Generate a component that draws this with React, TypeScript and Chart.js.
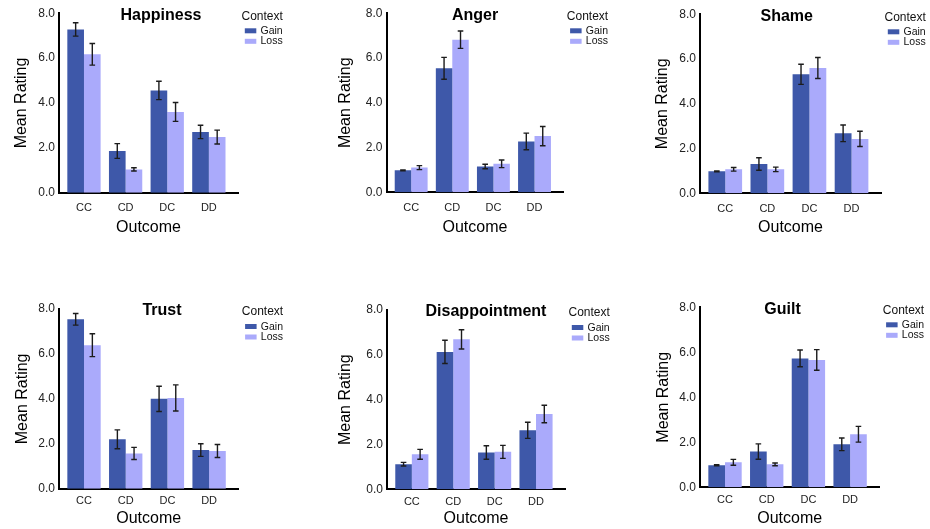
import React, { useEffect, useRef } from "react";
import { Chart, registerables } from "chart.js";

Chart.register(...registerables);

const FONT = "'Liberation Sans', Arial, Helvetica, sans-serif";

// ---- data ----
const outcomes = ["CC", "CD", "DC", "DD"];
const contextLabels = ["Gain", "Loss"];
const legendTitle = "Context";
const yTickValues = [0, 2, 4, 6, 8];
const yAxisTitle = "Mean Rating";
const xAxisTitle = "Outcome";

const happinessGain = [7.28, 1.86, 4.56, 2.71];
const happinessGainErr = [0.3, 0.33, 0.41, 0.3];
const happinessLoss = [6.17, 1.04, 3.6, 2.48];
const happinessLossErr = [0.48, 0.07, 0.42, 0.31];

const angerGain = [0.98, 5.54, 1.15, 2.27];
const angerGainErr = [0.02, 0.49, 0.1, 0.37];
const angerLoss = [1.1, 6.82, 1.27, 2.51];
const angerLossErr = [0.09, 0.39, 0.17, 0.43];

const shameGain = [0.98, 1.31, 5.32, 2.68];
const shameGainErr = [0.02, 0.28, 0.45, 0.37];
const shameLoss = [1.07, 1.07, 5.6, 2.43];
const shameLossErr = [0.08, 0.1, 0.47, 0.34];

const trustGain = [7.54, 2.2, 4.0, 1.72];
const trustGainErr = [0.26, 0.42, 0.56, 0.28];
const trustLoss = [6.39, 1.57, 4.04, 1.68];
const trustLossErr = [0.51, 0.27, 0.58, 0.29];

const disappointmentGain = [1.12, 6.13, 1.64, 2.63];
const disappointmentGainErr = [0.08, 0.52, 0.3, 0.36];
const disappointmentLoss = [1.56, 6.69, 1.67, 3.36];
const disappointmentLossErr = [0.22, 0.43, 0.29, 0.39];

const guiltGain = [0.98, 1.59, 5.73, 1.91];
const guiltGainErr = [0.02, 0.34, 0.37, 0.28];
const guiltLoss = [1.11, 1.02, 5.66, 2.36];
const guiltLossErr = [0.13, 0.06, 0.46, 0.35];

// ---- styles / layout ----
const GAIN_COLOR = "#3E58A9";
const LOSS_COLOR = "#AAAAFB";
const X_MIN = -0.6;
const X_MAX = 3.7;

type Rect = { left: number; top: number; width: number; height: number };
type Plot = { left: number; top: number; right: number; bottom: number };
type PanelSpec = {
  title: string;
  gain: number[];
  gainErr: number[];
  loss: number[];
  lossErr: number[];
  box: Rect;
  plot: Plot;
  titleX: number;
  yTitlePad: number;
  xTickPad: number;
  xTitlePad: number;
};

const ROW0 = { top: 0, height: 264 };
const ROW1 = { top: 264, height: 265 };

const panels: PanelSpec[] = [
  {
    title: "Happiness", gain: happinessGain, gainErr: happinessGainErr, loss: happinessLoss, lossErr: happinessLossErr,
    box: { left: 0, top: ROW0.top, width: 310, height: ROW0.height },
    plot: { left: 59, top: 13.3, right: 238, bottom: 192.7 },
    titleX: 161, yTitlePad: 12.4, xTickPad: 9, xTitlePad: 26.7,
  },
  {
    title: "Anger", gain: angerGain, gainErr: angerGainErr, loss: angerLoss, lossErr: angerLossErr,
    box: { left: 310, top: ROW0.top, width: 310, height: ROW0.height },
    plot: { left: 386.5, top: 13.3, right: 563.3, bottom: 192.2 },
    titleX: 475, yTitlePad: 26, xTickPad: 9, xTitlePad: 26.7,
  },
  {
    title: "Shame", gain: shameGain, gainErr: shameGainErr, loss: shameLoss, lossErr: shameLossErr,
    box: { left: 620, top: ROW0.top, width: 310, height: ROW0.height },
    plot: { left: 700, top: 14.3, right: 881, bottom: 193.3 },
    titleX: 786.7, yTitlePad: 33.4, xTickPad: 9, xTitlePad: 26.7,
  },
  {
    title: "Trust", gain: trustGain, gainErr: trustGainErr, loss: trustLoss, lossErr: trustLossErr,
    box: { left: 0, top: ROW1.top, width: 310, height: ROW1.height },
    plot: { left: 59, top: 309, right: 238.3, bottom: 488.7 },
    titleX: 162, yTitlePad: 13.4, xTickPad: 6, xTitlePad: 1.1,
  },
  {
    title: "Disappointment", gain: disappointmentGain, gainErr: disappointmentGainErr, loss: disappointmentLoss, lossErr: disappointmentLossErr,
    box: { left: 310, top: ROW1.top, width: 310, height: ROW1.height },
    plot: { left: 387, top: 310, right: 565, bottom: 489.3 },
    titleX: 486, yTitlePad: 26, xTickPad: 6, xTitlePad: 1.1,
  },
  {
    title: "Guilt", gain: guiltGain, gainErr: guiltGainErr, loss: guiltLoss, lossErr: guiltLossErr,
    box: { left: 620, top: ROW1.top, width: 310, height: ROW1.height },
    plot: { left: 700, top: 307.3, right: 879.3, bottom: 487.3 },
    titleX: 782.5, yTitlePad: 34, xTickPad: 6, xTitlePad: 1.1,
  },
];

const decorPlugin = {
  id: "decor",
  afterDatasetsDraw(chart: any) {
    const ctx = chart.ctx;
    const yScale = chart.scales.y;
    chart.data.datasets.forEach((ds: any, i: number) => {
      const meta = chart.getDatasetMeta(i);
      meta.data.forEach((bar: any, j: number) => {
        const v = ds.data[j].y;
        const e = ds.errors[j];
        const x = bar.x;
        const yt = yScale.getPixelForValue(v + e);
        const yb = yScale.getPixelForValue(v - e);
        ctx.save();
        ctx.strokeStyle = "#1c1c1c";
        ctx.lineWidth = 1.4;
        ctx.beginPath();
        ctx.moveTo(x, yt);
        ctx.lineTo(x, yb);
        ctx.moveTo(x - 2.8, yt);
        ctx.lineTo(x + 2.8, yt);
        ctx.moveTo(x - 2.8, yb);
        ctx.lineTo(x + 2.8, yb);
        ctx.stroke();
        ctx.restore();
      });
    });
  },
  afterDraw(chart: any, _args: any, opts: any) {
    const ctx = chart.ctx;
    const area = chart.chartArea;
    ctx.save();
    // title
    ctx.fillStyle = "#000";
    ctx.font = `bold 16px ${FONT}`;
    ctx.textAlign = "center";
    ctx.textBaseline = "alphabetic";
    ctx.fillText(opts.title, opts.titleX, area.top + 6.4);
    // legend
    const lx = area.right;
    ctx.textAlign = "left";
    ctx.textBaseline = "middle";
    ctx.font = `12px ${FONT}`;
    ctx.fillStyle = "#111";
    ctx.fillText(legendTitle, lx + 3.5, area.top + 3);
    const colors = [GAIN_COLOR, LOSS_COLOR];
    contextLabels.forEach((lab, k) => {
      const by = area.top + 15 + k * 10.5;
      ctx.fillStyle = colors[k];
      ctx.fillRect(lx + 6.8, by, 11.5, 5);
      ctx.fillStyle = "#111";
      ctx.font = `10.5px ${FONT}`;
      ctx.fillText(lab, lx + 22.5, by + 2.7);
    });
    ctx.restore();
  },
};

function Panel({ spec }: { spec: PanelSpec }) {
  const ref = useRef<HTMLCanvasElement | null>(null);
  useEffect(() => {
    if (!ref.current) return;
    const { box, plot } = spec;
    const yWidth = plot.left - box.left;
    const xHeight = box.top + box.height - plot.bottom;
    const padRight = box.width - (plot.right - box.left);
    const padTop = plot.top - box.top;
    const toPts = (arr: number[]) => arr.map((v, i) => ({ x: i, y: v }));
    const chart = new Chart(ref.current, {
      type: "bar",
      data: {
        datasets: [
          {
            label: contextLabels[0],
            data: toPts(spec.gain),
            errors: spec.gainErr,
            backgroundColor: GAIN_COLOR,
            borderWidth: 0,
          } as any,
          {
            label: contextLabels[1],
            data: toPts(spec.loss),
            errors: spec.lossErr,
            backgroundColor: LOSS_COLOR,
            borderWidth: 0,
          } as any,
        ],
      },
      options: {
        responsive: false,
        animation: false,
        devicePixelRatio: 1,
        datasets: { bar: { categoryPercentage: 0.8, barPercentage: 1.0 } },
        layout: { padding: { left: 0, right: padRight, top: padTop, bottom: 0 } },
        plugins: {
          legend: { display: false },
          title: { display: false },
          tooltip: { enabled: false },
          decor: { title: spec.title, titleX: spec.titleX - box.left },
        } as any,
        scales: {
          x: {
            type: "linear",
            min: X_MIN,
            max: X_MAX,
            offset: false,
            afterBuildTicks: (s: any) => {
              s.ticks = outcomes.map((_, i) => ({ value: i }));
            },
            ticks: {
              includeBounds: false,
              autoSkip: false,
              maxRotation: 0,
              callback: (v: any) => outcomes[Math.round(Number(v))] ?? "",
              font: { size: 11, family: FONT },
              color: "#222",
              padding: spec.xTickPad,
            },
            grid: { display: false, drawTicks: false },
            border: { display: true, color: "#000", width: 2 },
            title: {
              display: true,
              text: xAxisTitle,
              font: { size: 16, family: FONT },
              color: "#000",
              padding: { top: 0, bottom: spec.xTitlePad },
            },
            afterFit: (s: any) => {
              s.height = xHeight;
            },
          },
          y: {
            min: 0,
            max: 8,
            afterBuildTicks: (s: any) => {
              s.ticks = yTickValues.map((v) => ({ value: v }));
            },
            ticks: {
              callback: (v: any) => Number(v).toFixed(1),
              font: { size: 12, family: FONT },
              color: "#222",
              padding: 4,
            },
            grid: { display: false, drawTicks: false },
            border: { display: true, color: "#000", width: 2 },
            title: {
              display: true,
              text: yAxisTitle,
              font: { size: 16, family: FONT },
              color: "#000",
              padding: { top: spec.yTitlePad, bottom: 0 },
            },
            afterFit: (s: any) => {
              s.width = yWidth;
            },
          },
        } as any,
      },
      plugins: [decorPlugin as any],
    });
    return () => chart.destroy();
  }, [spec]);
  return (
    <canvas
      ref={ref}
      width={spec.box.width}
      height={spec.box.height}
      style={{
        position: "absolute",
        left: spec.box.left,
        top: spec.box.top,
        width: spec.box.width,
        height: spec.box.height,
        display: "block",
      }}
    />
  );
}

export default function App() {
  return (
    <div
      style={{
        position: "absolute",
        left: 0,
        top: 0,
        width: 930,
        height: 529,
        background: "#fff",
        overflow: "hidden",
      }}
    >
      {panels.map((p) => (
        <Panel key={p.title} spec={p} />
      ))}
    </div>
  );
}
